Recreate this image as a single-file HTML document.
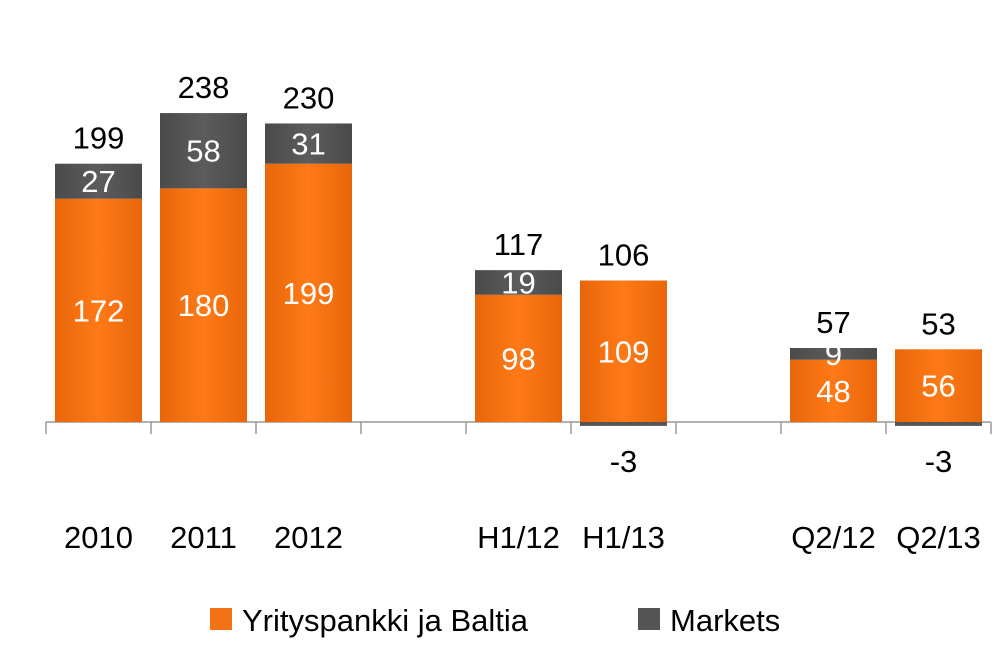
<!DOCTYPE html>
<html><head><meta charset="utf-8"><style>
body{margin:0;background:#fff;}
svg{display:block;font-family:"Liberation Sans",sans-serif;}
</style></head><body>
<svg id="c" width="1006" height="658">
<defs>
<linearGradient id="og" x1="0" x2="1" y1="0" y2="0"><stop offset="0" stop-color="#e8660a"/><stop offset="0.5" stop-color="#ff7a16"/><stop offset="1" stop-color="#e8660a"/></linearGradient>
<linearGradient id="gg" x1="0" x2="1" y1="0" y2="0"><stop offset="0" stop-color="#4a4a4a"/><stop offset="0.5" stop-color="#5c5c5c"/><stop offset="1" stop-color="#4a4a4a"/></linearGradient>
</defs>
<g id="bars"></g>
<g>
<rect x="210" y="608" width="22" height="22" fill="#f47216"/>
<text x="242" y="631" font-size="31" fill="#000">Yrityspankki ja Baltia</text>
<rect x="638" y="608" width="22" height="22" fill="#555"/>
<text x="670" y="631" font-size="31" fill="#000">Markets</text>
</g>
</svg>
<script>
const categories=["2010","2011","2012","","H1/12","H1/13","","Q2/12","Q2/13"];
const yritys=[172,180,199,null,98,109,null,48,56];
const markets=[27,58,31,null,19,-3,null,9,-3];
const totals=[199,238,230,null,117,106,null,57,53];
const NS="http://www.w3.org/2000/svg";
const g=document.getElementById('bars');
const x0=46,slot=105,base=422,k=1.298,bw=87;
const y=v=>base-v*k;
function mk(t,a){const e=document.createElementNS(NS,t);for(const n in a)e.setAttribute(n,a[n]);g.appendChild(e);return e;}
let ax=mk('line',{x1:x0,x2:x0+slot*categories.length,y1:base,y2:base,stroke:'#999','stroke-width':1.5});


for(let i=0;i<=categories.length;i++){let t=mk('line',{x1:x0+slot*i,x2:x0+slot*i,y1:base,y2:base+12,stroke:'#999','stroke-width':1.5});

}
categories.forEach((c,i)=>{
 const cx=x0+slot*i+slot/2,bx=cx-bw/2;
 if(c){let l=mk('text',{x:cx,y:548,'font-size':31,'text-anchor':'middle',fill:'#000'});l.textContent=c;
 
 }
 if(yritys[i]==null)return;
 const o=yritys[i],m=markets[i];
 let r=mk('rect',{x:bx,y:y(o),width:bw,height:o*k,fill:'url(#og)'});
 
 
 let ol=mk('text',{x:cx,y:(y(o)+base)/2+11,'font-size':31,'text-anchor':'middle',fill:'#fff'});ol.textContent=o;
 
 
 let mr;
 if(m>=0){mr=mk('rect',{x:bx,y:y(o+m),width:bw,height:m*k,fill:'url(#gg)'});
  let ml=mk('text',{x:cx,y:(y(o+m)+y(o))/2+11,'font-size':31,'text-anchor':'middle',fill:'#fff'});ml.textContent=m;
  
  }
 else{mr=mk('rect',{x:bx,y:base,width:bw,height:-m*k,fill:'#555'});
  let ml=mk('text',{x:cx,y:472,'font-size':31,'text-anchor':'middle',fill:'#000'});ml.textContent=m;
  
  }
 
 
 const top=y(o+Math.max(m,0));
 let tl=mk('text',{x:cx,y:top-15,'font-size':31,'text-anchor':'middle',fill:'#000'});tl.textContent=totals[i];
 
 
});
</script>
</body></html>
